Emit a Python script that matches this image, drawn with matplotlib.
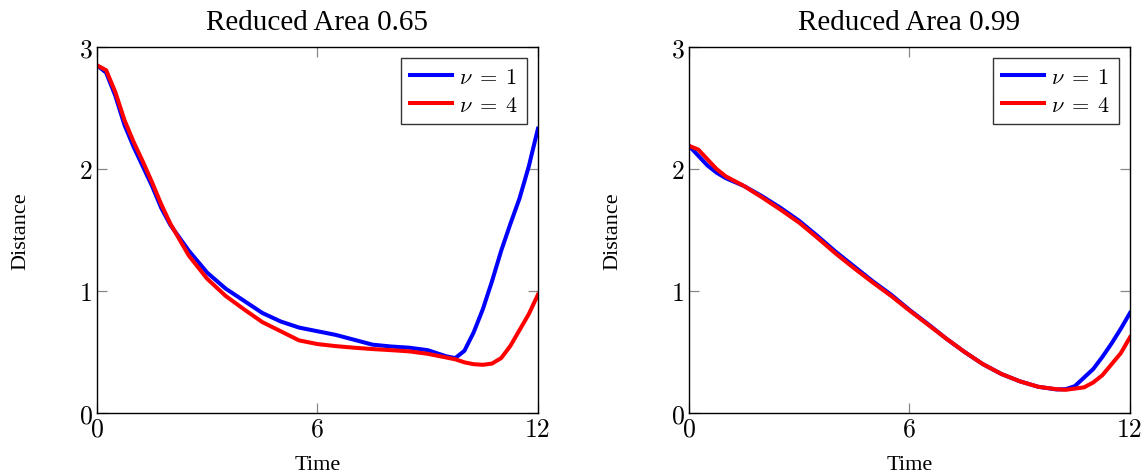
import matplotlib
matplotlib.use("Agg")
import matplotlib.pyplot as plt

plt.rcParams["mathtext.fontset"] = "cm"
plt.rcParams["axes.formatter.use_mathtext"] = True

# left panel: reduced area 0.65
t_left = [0, 0.25, 0.5, 0.75, 1.0, 1.25, 1.5, 1.75, 2.0, 2.5, 3.0, 3.5, 4.0,
          4.5, 5.0, 5.5, 6.0, 6.5, 7.0, 7.5, 8.0, 8.5, 9.0, 9.25, 9.5, 9.75,
          10.0, 10.25, 10.5, 10.75, 11.0, 11.25, 11.5, 11.75, 12.0]
nu1_left = [2.85, 2.79, 2.60, 2.36, 2.18, 2.02, 1.86, 1.68, 1.54, 1.33, 1.15,
            1.02, 0.92, 0.82, 0.75, 0.70, 0.67, 0.64, 0.60, 0.56, 0.545, 0.535,
            0.515, 0.49, 0.465, 0.45, 0.51, 0.66, 0.85, 1.08, 1.33, 1.55, 1.76,
            2.02, 2.33]
nu4_left = [2.85, 2.81, 2.63, 2.40, 2.22, 2.06, 1.89, 1.71, 1.55, 1.29, 1.10,
            0.96, 0.85, 0.745, 0.67, 0.595, 0.565, 0.548, 0.535, 0.524, 0.515,
            0.505, 0.485, 0.47, 0.455, 0.44, 0.415, 0.40, 0.395, 0.405, 0.45,
            0.55, 0.68, 0.81, 0.97]

# right panel: reduced area 0.99
t_right = [0, 0.25, 0.5, 0.75, 1.0, 1.5, 2.0, 2.5, 3.0, 3.5, 4.0, 4.5, 5.0,
           5.5, 6.0, 6.5, 7.0, 7.5, 8.0, 8.5, 9.0, 9.5, 10.0, 10.25, 10.5,
           10.75, 11.0, 11.25, 11.5, 11.75, 12.0]
nu1_right = [2.19, 2.11, 2.03, 1.97, 1.925, 1.86, 1.775, 1.68, 1.575, 1.45,
             1.32, 1.20, 1.08, 0.97, 0.845, 0.73, 0.61, 0.50, 0.40, 0.32, 0.26,
             0.215, 0.193, 0.195, 0.22, 0.29, 0.36, 0.46, 0.57, 0.69, 0.82]
nu4_right = [2.19, 2.16, 2.08, 2.00, 1.94, 1.86, 1.765, 1.665, 1.56, 1.435,
             1.305, 1.185, 1.07, 0.96, 0.84, 0.725, 0.61, 0.50, 0.40, 0.32,
             0.26, 0.215, 0.195, 0.19, 0.20, 0.21, 0.25, 0.31, 0.40, 0.49, 0.62]

titles = ["Reduced Area 0.65", "Reduced Area 0.99"]
legend_labels = [r"$\nu\;=\;1$", r"$\nu\;=\;4$"]
x_ticks = [0, 6, 12]
y_ticks = [0, 1, 2, 3]

panels = [(t_left, nu1_left, nu4_left), (t_right, nu1_right, nu4_right)]

fig = plt.figure(figsize=(11.46, 4.77), dpi=100)
ax_boxes = [[0.0846, 0.1321, 0.3848, 0.7673],
            [0.6012, 0.1321, 0.3848, 0.7673]]

serif = "Liberation Serif"
for box, title, (t, a, b) in zip(ax_boxes, titles, panels):
    ax = fig.add_axes(box)
    ax.plot(t, a, color="#0000ff", lw=2.9, label=legend_labels[0])
    ax.plot(t, b, color="#ff0000", lw=2.9, label=legend_labels[1])
    ax.set_xlim(0, 12)
    ax.set_ylim(0, 3)
    ax.set_xticks(x_ticks)
    ax.set_yticks(y_ticks)
    ax.set_xticklabels([str(v) for v in x_ticks], family="cmr10", fontsize=18.5)
    ax.set_yticklabels([str(v) for v in y_ticks], family="cmr10", fontsize=18.5)
    ax.tick_params(direction="in", length=7, width=0.9, color="#888888",
                   top=True, right=True, pad=3)
    for s in ax.spines.values():
        s.set_linewidth(1.0)
        s.set_color("black")
    ax.set_title(title, family=serif, fontsize=21, pad=13)
    ax.set_xlabel("Time", family=serif, fontsize=16, labelpad=10)
    ax.set_ylabel("Distance", family=serif, fontsize=16, labelpad=36)
    leg = ax.legend(loc="upper right", fontsize=16, fancybox=False,
                    framealpha=1, edgecolor="#333333", handlelength=1.9,
                    handletextpad=0.3, borderpad=0.4, labelspacing=0.35,
                    borderaxespad=0.5)
    leg.get_frame().set_linewidth(1.0)

fig.savefig("out.png", dpi=100)
